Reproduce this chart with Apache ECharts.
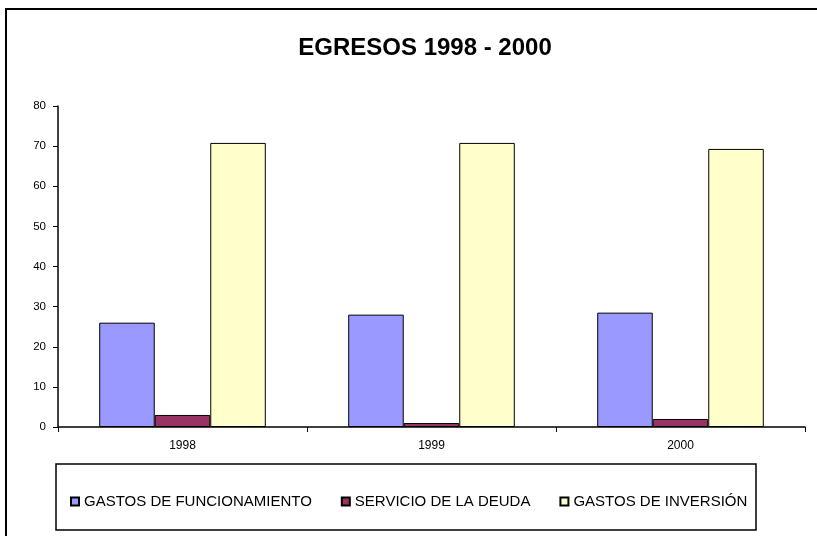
<!DOCTYPE html>
<html>
<head>
<meta charset="utf-8">
<script src="https://cdn.jsdelivr.net/npm/echarts@6/dist/echarts.min.js"></script>
<style>
  html, body {margin: 0; padding: 0; background: #fff;}
  #chart {width: 817px; height: 536px;}
</style>
</head>
<body>
<div id="chart"></div>
<script>
const years = ['1998', '1999', '2000']
const funcionamiento = [26, 28, 28.5]
const deuda = [3, 1, 2]
const inversion = [70.8, 70.8, 69.3]
const yTicks = [0, 80, 10]  // min, max, interval

const chart = echarts.init(document.getElementById('chart'))

const barStyle = (color) => ({color: color, borderColor: '#000', borderWidth: 1})

const option = {
    backgroundColor: '#fff',
    animation: false,
    textStyle: {fontFamily: 'Liberation Sans, Arial, sans-serif'},
    title: {
        text: 'EGRESOS 1998 - 2000',
        left: 420,
        textAlign: 'center',
        top: 31,
        textStyle: {fontSize: 24, fontWeight: 'bold', color: '#000'}
    },
    graphic: [
        {type: 'rect', shape: {x: 6, y: 9, width: 820, height: 540}, style: {fill: null, stroke: '#000', lineWidth: 2}, silent: true},
        {type: 'rect', shape: {x: 56, y: 464, width: 700, height: 66}, style: {fill: null, stroke: '#000', lineWidth: 1.5}, silent: true}
    ],
    legend: {
        left: 65,
        top: 489,
        itemWidth: 8,
        itemHeight: 8,
        itemGap: 29,
        icon: 'rect',
        textStyle: {fontSize: 15, color: '#000', padding: [0, 0, 0, 0]},
        data: ['GASTOS DE FUNCIONAMIENTO', 'SERVICIO DE LA DEUDA', 'GASTOS DE INVERSIÓN']
    },
    grid: {left: 58, right: 12, top: 106, bottom: 109},
    xAxis: {
        type: 'category',
        data: years,
        axisLine: {lineStyle: {color: '#000', width: 1.5}},
        axisTick: {show: true, length: 5, lineStyle: {color: '#000'}},
        axisLabel: {color: '#000', fontSize: 12, margin: 13}
    },
    yAxis: {
        type: 'value',
        min: yTicks[0],
        max: yTicks[1],
        interval: yTicks[2],
        axisLine: {show: true, lineStyle: {color: '#000', width: 1.5}},
        axisTick: {show: true, length: 5, lineStyle: {color: '#000'}},
        axisLabel: {color: '#000', fontSize: 11.5, margin: 12},
        splitLine: {show: false}
    },
    series: [
        {name: 'GASTOS DE FUNCIONAMIENTO', type: 'bar', data: funcionamiento, barWidth: '22.3%', barGap: '0%', itemStyle: barStyle('#9999FF')},
        {name: 'SERVICIO DE LA DEUDA', type: 'bar', data: deuda, barWidth: '22.3%', barGap: '0%', itemStyle: barStyle('#993366')},
        {name: 'GASTOS DE INVERSIÓN', type: 'bar', data: inversion, barWidth: '22.3%', barGap: '0%', itemStyle: barStyle('#FFFFCC')}
    ]
}

chart.setOption(option)
</script>
</body>
</html>
